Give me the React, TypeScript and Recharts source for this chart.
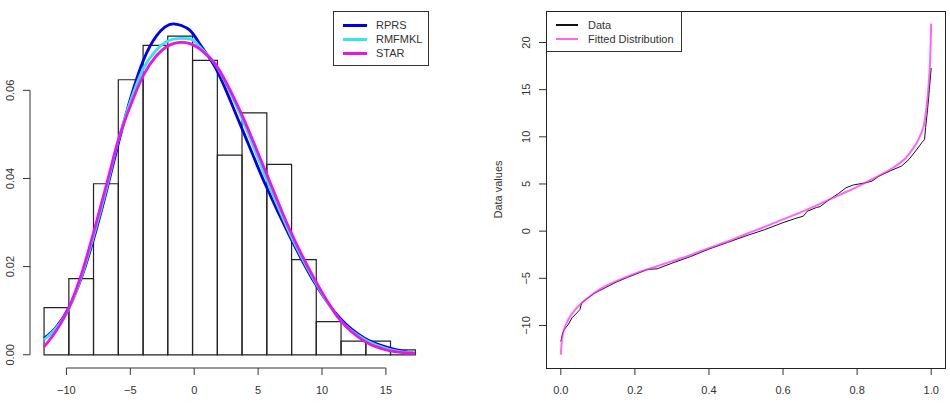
import {
  ComposedChart,
  Line,
  XAxis,
  YAxis,
  ReferenceArea,
  ReferenceLine,
  Legend,
} from "recharts";

const FONT = "'Liberation Sans', Arial, sans-serif";
const INK = "#333";

// left panel: histogram of the sample + three fitted densities
const binEdges = [-11.75, -9.81, -7.88, -5.94, -4.0, -2.07, -0.13, 1.81, 3.74, 5.68, 7.62, 9.55, 11.49, 13.43, 15.36, 17.3];
const density = [0.0107, 0.0173, 0.0388, 0.0624, 0.0702, 0.0723, 0.0668, 0.0453, 0.0549, 0.0432, 0.0216, 0.0075, 0.0031, 0.0031, 0.0011];

const curveX = [-11.75, -10.76, -9.77, -8.8, -7.9, -6.85, -5.94, -5.03, -3.98, -2.94, -1.64, -1.0, -0.33, 0.6, 1.63, 3.58, 5.54, 7.49, 9.45, 11.41, 13.36, 15.32, 17.27];
const rprs = [0.0037, 0.0064, 0.0109, 0.0177, 0.026, 0.0373, 0.0479, 0.0577, 0.0668, 0.0724, 0.0751, 0.0747, 0.0736, 0.0698, 0.0653, 0.0524, 0.0388, 0.0268, 0.0162, 0.0083, 0.0037, 0.0015, 0.0003];
const rmfmkl = [0.0034, 0.0062, 0.0107, 0.018, 0.0267, 0.038, 0.0487, 0.0572, 0.0649, 0.0692, 0.0716, 0.0718, 0.0717, 0.0694, 0.066, 0.0547, 0.0407, 0.0275, 0.0166, 0.0079, 0.0034, 0.0012, 0.0004];
const star = [0.0018, 0.0056, 0.0109, 0.0185, 0.0275, 0.0388, 0.0487, 0.0562, 0.0634, 0.0679, 0.0706, 0.0709, 0.0706, 0.069, 0.066, 0.0554, 0.0419, 0.0283, 0.017, 0.0079, 0.003, 0.0009, 0.0003];

const histTicksX = [-10, -5, 0, 5, 10, 15];
const histTicksY = [0, 0.02, 0.04, 0.06];

// right panel: sample quantiles vs fitted quantile function
const dataP = [0, 0.005, 0.01, 0.02, 0.03, 0.045, 0.052, 0.056, 0.07, 0.09, 0.1, 0.12, 0.15, 0.18, 0.2, 0.225, 0.235, 0.26, 0.3, 0.35, 0.4, 0.45, 0.5, 0.55, 0.6, 0.63, 0.655, 0.665, 0.69, 0.7, 0.72, 0.75, 0.77, 0.79, 0.82, 0.84, 0.86, 0.89, 0.92, 0.94, 0.96, 0.975, 0.982, 0.985, 0.99, 0.995, 1.0];
const dataV = [-11.7, -10.8, -10.4, -9.9, -9.2, -8.6, -8.3, -7.6, -7.2, -6.6, -6.4, -6.0, -5.4, -4.9, -4.6, -4.2, -4.05, -4.0, -3.4, -2.7, -1.9, -1.2, -0.5, 0.15, 0.9, 1.3, 1.6, 2.1, 2.5, 2.6, 3.2, 4.0, 4.6, 4.9, 5.1, 5.3, 5.85, 6.4, 6.9, 7.6, 8.6, 9.4, 9.7, 11.0, 12.8, 15.0, 17.3];
const fitP = [0, 0.003, 0.01, 0.02, 0.035, 0.05, 0.075, 0.1, 0.15, 0.2, 0.25, 0.3, 0.35, 0.4, 0.45, 0.5, 0.55, 0.6, 0.65, 0.7, 0.75, 0.8, 0.85, 0.9, 0.93, 0.95, 0.96, 0.97, 0.98, 0.987, 0.994, 0.998, 1.0];
const fitV = [-13.1, -11.5, -10.3, -9.4, -8.5, -7.85, -7.0, -6.3, -5.3, -4.5, -3.85, -3.2, -2.55, -1.8, -1.1, -0.3, 0.45, 1.25, 2.05, 2.9, 3.8, 4.7, 5.7, 6.8, 7.7, 8.7, 9.3, 10.1, 11.2, 13.0, 16.0, 19.0, 22.0];

const qTicksX = [0, 0.2, 0.4, 0.6, 0.8, 1.0];
const qTicksY = [-10, -5, 0, 5, 10, 15, 20];

const histSeries = ["RPRS", "RMFMKL", "STAR"];
const qSeries = ["Data", "Fitted Distribution"];

const curveRows = curveX.map((x, i) => ({ x, rprs: rprs[i], rmfmkl: rmfmkl[i], star: star[i] }));
const dataRows = dataP.map((p, i) => ({ p, v: dataV[i] }));
const fitRows = fitP.map((p, i) => ({ p, v: fitV[i] }));

const Q_X: [number, number] = [-0.04, 1.04];
const Q_Y: [number, number] = [-14.51, 23.34];

// right panel plot box (chart-relative): margin + axis sizes
const Q_MARGIN = { top: 11, right: 4, bottom: 0, left: 0 };
const Q_YAXIS_W = 71;
const Q_XAXIS_H = 43;

const signed = (v: number) => (v < 0 ? "\u2212" + Math.abs(v) : String(v));

function XTick({ x, y, payload, fmt }: any) {
  return (
    <text x={x} y={y + 18.5} textAnchor="middle" fontSize={11} fontFamily={FONT} fill={INK}>
      {fmt(payload.value)}
    </text>
  );
}

function YTick({ x, y, payload, fmt }: any) {
  const bx = x - 8.7;
  return (
    <text x={bx} y={y} transform={`rotate(-90 ${bx} ${y})`} textAnchor="middle" fontSize={11} fontFamily={FONT} fill={INK}>
      {fmt(payload.value)}
    </text>
  );
}

function BoxLegend({ payload, order, width, lineLen, lineWidths, gap }: any) {
  const items = [...(payload || [])].sort((a: any, b: any) => order.indexOf(a.value) - order.indexOf(b.value));
  return (
    <div
      style={{
        boxSizing: "border-box",
        width,
        border: `1px solid ${INK}`,
        background: "#fff",
        padding: "6px 0 5px 9px",
        fontFamily: FONT,
        fontSize: 11,
        lineHeight: "14px",
        color: INK,
      }}
    >
      {items.map((item: any, i: number) => (
        <div key={item.value} style={{ display: "flex", alignItems: "center", height: 14 }}>
          <span
            style={{
              display: "inline-block",
              width: lineLen,
              height: lineWidths[i],
              background: item.color,
              opacity: item.payload?.strokeOpacity ?? 1,
              marginRight: gap,
            }}
          />
          <span>{item.value}</span>
        </div>
      ))}
    </div>
  );
}

function HistogramPanel() {
  return (
    <ComposedChart width={475} height={411} data={curveRows} margin={{ top: 11, right: 45, bottom: 0, left: 0 }}>
      <XAxis
        type="number"
        dataKey="x"
        domain={[-12.85, 18.45]}
        allowDataOverflow
        ticks={histTicksX}
        height={43}
        axisLine={false}
        tickSize={7}
        tickMargin={0}
        tickLine={{ stroke: INK }}
        tick={<XTick fmt={signed} />}
      />
      <YAxis
        type="number"
        domain={[-0.003, 0.078]}
        allowDataOverflow
        ticks={histTicksY}
        width={30}
        axisLine={false}
        tickSize={7}
        tickMargin={0}
        tickLine={{ stroke: INK }}
        tick={<YTick fmt={(v: number) => v.toFixed(2)} />}
      />
      <ReferenceLine segment={[{ x: -12.85, y: 0 }, { x: -12.85, y: 0.06 }]} stroke={INK} ifOverflow="visible" />
      <ReferenceLine segment={[{ x: -10, y: -0.003 }, { x: 15, y: -0.003 }]} stroke={INK} ifOverflow="visible" />
      {density.map((d, i) => (
        <ReferenceArea
          key={i}
          x1={binEdges[i]}
          x2={binEdges[i + 1]}
          y1={0}
          y2={d}
          fill="none"
          stroke="#222"
          strokeWidth={1.2}
          fillOpacity={0}
          strokeOpacity={1}
          ifOverflow="visible"
        />
      ))}
      <Line type="monotone" dataKey="rprs" name={histSeries[0]} stroke="#0000ee" strokeWidth={2.8} dot={false} isAnimationActive={false} />
      <Line type="monotone" dataKey="rmfmkl" name={histSeries[1]} stroke="#2ee8f0" strokeWidth={2.8} dot={false} isAnimationActive={false} />
      <Line type="monotone" dataKey="star" name={histSeries[2]} stroke="#ee11ee" strokeWidth={2.8} dot={false} isAnimationActive={false} />
      <Legend
        layout="vertical"
        align="center"
        verticalAlign="middle"
        wrapperStyle={{ left: 333, top: 11, width: 96, height: "auto" }}
        content={(props: any) => (
          <BoxLegend {...props} order={histSeries} width={96} lineLen={24} lineWidths={[3, 3, 3]} gap={9} />
        )}
      />
    </ComposedChart>
  );
}

function QuantilePanel() {
  return (
    <div style={{ position: "relative", width: 475, height: 411, flex: "0 0 475px" }}>
      <ComposedChart width={475} height={411} data={fitRows} margin={Q_MARGIN}>
        <XAxis
          type="number"
          dataKey="p"
          domain={Q_X}
          allowDataOverflow
          ticks={qTicksX}
          height={Q_XAXIS_H}
          axisLine={false}
          tickSize={7}
          tickMargin={0}
          tickLine={{ stroke: INK }}
          tick={<XTick fmt={(v: number) => v.toFixed(1)} />}
        />
        <YAxis
          type="number"
          domain={Q_Y}
          allowDataOverflow
          ticks={qTicksY}
          width={Q_YAXIS_W}
          axisLine={false}
          tickSize={7}
          tickMargin={0}
          tickLine={{ stroke: INK }}
          tick={<YTick fmt={signed} />}
          label={{
            value: "Data values",
            content: ({ viewBox, value }: any) => {
              const cx = viewBox.x + 27;
              const cy = viewBox.y + viewBox.height / 2;
              return (
                <text x={cx} y={cy} transform={`rotate(-90 ${cx} ${cy})`} textAnchor="middle" fontSize={11} fontFamily={FONT} fill={INK}>
                  {value}
                </text>
              );
            },
          }}
        />
        <Line data={dataRows} type="linear" dataKey="v" name={qSeries[0]} stroke="#111" strokeWidth={1} dot={false} isAnimationActive={false} />
        <Line type="monotone" dataKey="v" name={qSeries[1]} stroke="#ff22ff" strokeOpacity={0.7} strokeWidth={2} dot={false} isAnimationActive={false} />
        <Legend
          layout="vertical"
          align="center"
          verticalAlign="middle"
          wrapperStyle={{ left: Q_YAXIS_W, top: Q_MARGIN.top, width: 136, height: "auto" }}
          content={(props: any) => (
            <BoxLegend {...props} order={qSeries} width={136} lineLen={22} lineWidths={[1.2, 2]} gap={10} />
          )}
        />
      </ComposedChart>
      {/* box() around the plot region */}
      <div
        style={{
          position: "absolute",
          zIndex: 5,
          boxSizing: "border-box",
          left: Q_MARGIN.left + Q_YAXIS_W,
          top: Q_MARGIN.top,
          width: 475 - Q_MARGIN.left - Q_MARGIN.right - Q_YAXIS_W,
          height: 411 - Q_MARGIN.top - Q_MARGIN.bottom - Q_XAXIS_H + 1,
          borderStyle: "solid",
          borderWidth: 1,
          borderColor: "#222",
          pointerEvents: "none",
        }}
      />
    </div>
  );
}

export default function App() {
  return (
    <div style={{ position: "absolute", left: 0, top: 0, width: 950, height: 411, display: "flex", background: "#fff" }}>
      <HistogramPanel />
      <QuantilePanel />
    </div>
  );
}
